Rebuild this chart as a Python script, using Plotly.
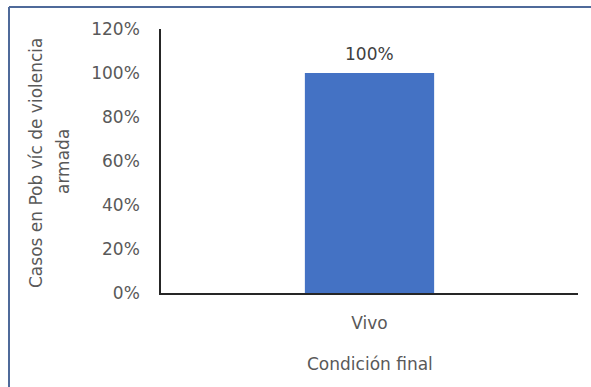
import plotly.graph_objects as go

categories = ["Vivo"]
values = [1.0]
value_labels = ["100%"]
y_ticks = [0, 0.2, 0.4, 0.6, 0.8, 1.0, 1.2]
y_tick_labels = ["0%", "20%", "40%", "60%", "80%", "100%", "120%"]

W, H = 591, 387
ml, mr, mt, mb = 161, 13, 29, 94
pw, ph = W - ml - mr, H - mt - mb

def px_x(x):
    return (x - ml) / pw

def px_y(y):
    return (H - mb - y) / ph

font = "DejaVu Sans"
grey = "#595959"
fs = 17

fig = go.Figure(go.Bar(x=categories, y=values, marker=dict(color="#4472C4", line=dict(width=0))))

fig.add_annotation(x=categories[0], y=values[0], xref="x", yref="y", text=value_labels[0],
                   showarrow=False, yanchor="bottom", yshift=7,
                   font=dict(family=font, size=fs, color="#404040"))

fig.add_annotation(x=px_x(36), y=px_y(162), xref="paper", yref="paper",
                   text="Casos en Pob víc de violencia", textangle=-90, showarrow=False,
                   xanchor="center", yanchor="middle", font=dict(family=font, size=fs, color=grey))
fig.add_annotation(x=px_x(63), y=px_y(162), xref="paper", yref="paper",
                   text="armada", textangle=-90, showarrow=False,
                   xanchor="center", yanchor="middle", font=dict(family=font, size=fs, color=grey))
fig.add_annotation(x=0.5, y=px_y(364), xref="paper", yref="paper",
                   text="Condición final", showarrow=False,
                   xanchor="center", yanchor="middle", font=dict(family=font, size=fs, color=grey))

border = "#4f6a9a"
fig.add_shape(type="line", xref="paper", yref="paper", x0=px_x(9), x1=px_x(600), y0=px_y(7), y1=px_y(7),
              line=dict(color=border, width=2))
fig.add_shape(type="line", xref="paper", yref="paper", x0=px_x(9), x1=px_x(9), y0=px_y(7), y1=px_y(400),
              line=dict(color=border, width=2))

fig.update_layout(
    width=W, height=H,
    margin=dict(l=ml, r=mr, t=mt, b=mb),
    paper_bgcolor="white", plot_bgcolor="white",
    bargap=0.69,
    showlegend=False,
    hovermode=False,
    font=dict(family=font, size=fs, color=grey),
    xaxis=dict(showline=True, linecolor="#262626", linewidth=1.5, ticks="outside", ticklen=14,
               tickcolor="rgba(0,0,0,0)", tickfont=dict(family=font, size=fs, color=grey),
               showgrid=False, zeroline=False),
    yaxis=dict(range=[0, 1.2], tickvals=y_ticks, ticktext=y_tick_labels, showline=True,
               linecolor="#262626", linewidth=1.5, ticks="outside", ticklen=16,
               tickcolor="rgba(0,0,0,0)", tickfont=dict(family=font, size=fs, color=grey),
               showgrid=False, zeroline=False),
)

fig.write_html("out.html", config={"displayModeBar": False},
               post_script="document.body.style.margin='0';")
